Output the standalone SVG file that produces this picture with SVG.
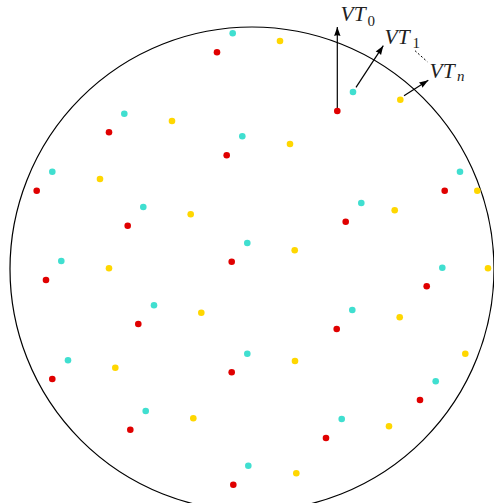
<svg xmlns="http://www.w3.org/2000/svg" width="494" height="503" viewBox="0 0 494 503">
<style>
.r{fill:#e00000}
.c{fill:#40dfd0}
.y{fill:#ffd700}
.lbl{font-family:"Liberation Serif","DejaVu Serif",serif;font-style:italic;font-size:21.5px;fill:#222}
.sub{font-size:15px}
.up{font-style:normal}
.arr{stroke:#000;stroke-width:1.2;fill:none;marker-end:url(#ah)}
</style>
<defs>
<marker id="ah" markerUnits="userSpaceOnUse" markerWidth="12" markerHeight="10" viewBox="-1 -5 12 10" refX="9" refY="0" orient="auto">
<path d="M0,-3.2 L9,0 L0,3.2 Q1.5,0 0,-3.2 z" fill="#000"/>
</marker>
</defs>
<rect width="494" height="503" fill="#fff"/>
<circle id="boundary" cx="252" cy="269" r="242" fill="none" stroke="#000" stroke-width="1.2"/>
<g id="connectors">
<line class="arr" x1="337.3" y1="110.7" x2="337.3" y2="27"/>
<line class="arr" x1="356" y1="87.3" x2="383.3" y2="45.7"/>
<line class="arr" x1="404" y1="95.7" x2="428.3" y2="80.3"/>
<line x1="415" y1="50.7" x2="427.3" y2="61.7" stroke="#000" stroke-width="1" stroke-dasharray="2,2"/>
</g>
<g id="t1"><circle class="r" cx="217" cy="52.3" r="3.3"/><circle class="c" cx="232.7" cy="33.3" r="3.3"/><circle class="y" cx="280" cy="41" r="3.3"/></g>
<g id="t2"><circle class="r" cx="109" cy="132.3" r="3.3"/><circle class="c" cx="124.3" cy="113.7" r="3.3"/><circle class="y" cx="172" cy="121" r="3.3"/></g>
<g id="t3"><circle class="r" cx="226.7" cy="155.3" r="3.3"/><circle class="c" cx="242.3" cy="136.3" r="3.3"/><circle class="y" cx="290" cy="144" r="3.3"/></g>
<g id="t4"><circle class="r" cx="36.7" cy="190.7" r="3.3"/><circle class="c" cx="52.3" cy="171.7" r="3.3"/><circle class="y" cx="100" cy="179" r="3.3"/></g>
<g id="t5"><circle class="r" cx="337.3" cy="111" r="3.3"/><circle class="c" cx="353" cy="92" r="3.3"/><circle class="y" cx="400.3" cy="99.7" r="3.3"/></g>
<g id="t6"><circle class="r" cx="444.7" cy="190.7" r="3.3"/><circle class="c" cx="460" cy="171.7" r="3.3"/><circle class="y" cx="477.3" cy="190.7" r="3.3"/></g>
<g id="t7"><circle class="r" cx="127.7" cy="225.7" r="3.3"/><circle class="c" cx="143.3" cy="207" r="3.3"/><circle class="y" cx="190.7" cy="214.3" r="3.3"/></g>
<g id="t8"><circle class="r" cx="231.7" cy="261.7" r="3.3"/><circle class="c" cx="247.3" cy="243" r="3.3"/><circle class="y" cx="294.7" cy="250.3" r="3.3"/></g>
<g id="t9"><circle class="r" cx="46" cy="280" r="3.3"/><circle class="c" cx="61.3" cy="261" r="3.3"/><circle class="y" cx="109" cy="268.3" r="3.3"/></g>
<g id="t10"><circle class="r" cx="138.3" cy="324" r="3.3"/><circle class="c" cx="154" cy="305.3" r="3.3"/><circle class="y" cx="201.3" cy="312.7" r="3.3"/></g>
<g id="t11"><circle class="r" cx="345.7" cy="221.7" r="3.3"/><circle class="c" cx="361.3" cy="203" r="3.3"/><circle class="y" cx="394.7" cy="210.3" r="3.3"/></g>
<g id="t12"><circle class="r" cx="426.7" cy="286.3" r="3.3"/><circle class="c" cx="442.3" cy="267.7" r="3.3"/><circle class="y" cx="488" cy="268.3" r="3.3"/></g>
<g id="t13"><circle class="r" cx="336.7" cy="329" r="3.3"/><circle class="c" cx="352.3" cy="310" r="3.3"/><circle class="y" cx="399.7" cy="317.3" r="3.3"/></g>
<g id="t14"><circle class="r" cx="52.3" cy="379" r="3.3"/><circle class="c" cx="68" cy="360.3" r="3.3"/><circle class="y" cx="115.3" cy="367.7" r="3.3"/></g>
<g id="t15"><circle class="r" cx="130.3" cy="429.7" r="3.3"/><circle class="c" cx="145.7" cy="411" r="3.3"/><circle class="y" cx="193.3" cy="418.3" r="3.3"/></g>
<g id="t16"><circle class="r" cx="231.7" cy="372.3" r="3.3"/><circle class="c" cx="247.3" cy="353.7" r="3.3"/><circle class="y" cx="295" cy="361" r="3.3"/></g>
<g id="t17"><circle class="r" cx="233.3" cy="484.7" r="3.3"/><circle class="c" cx="248.3" cy="465.7" r="3.3"/><circle class="y" cx="296.3" cy="473.3" r="3.3"/></g>
<g id="t18"><circle class="r" cx="420" cy="400" r="3.3"/><circle class="c" cx="435.7" cy="381.3" r="3.3"/><circle class="y" cx="465.3" cy="353.7" r="3.3"/></g>
<g id="t19"><circle class="r" cx="326" cy="438" r="3.3"/><circle class="c" cx="341.7" cy="419" r="3.3"/><circle class="y" cx="389" cy="426.3" r="3.3"/></g>
<g id="VT0"><text class="lbl" x="340.5" y="21">VT<tspan class="sub up" x="367.5" y="25.5">0</tspan></text></g>
<g id="VT1"><text class="lbl" x="384.5" y="43.5">VT<tspan class="sub up" x="412.5" y="48">1</tspan></text></g>
<g id="VTn"><text class="lbl" x="429.5" y="77.5">VT<tspan class="sub" x="457" y="81">n</tspan></text></g>
</svg>
